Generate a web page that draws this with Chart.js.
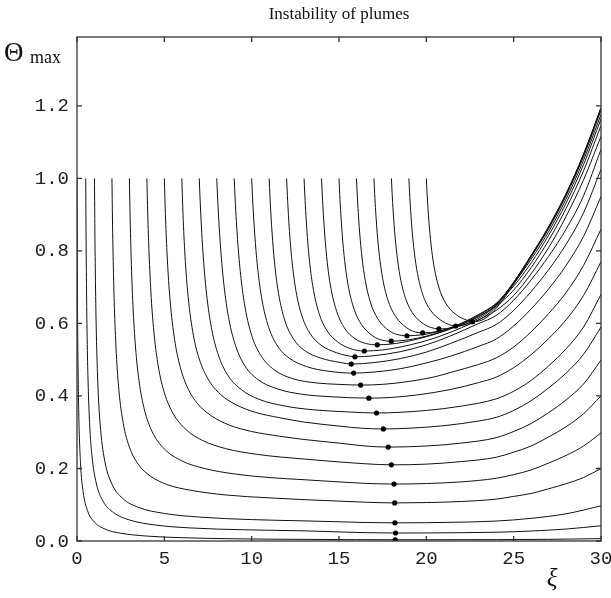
<!DOCTYPE html>
<html>
<head>
<meta charset="utf-8">
<title>Instability of plumes</title>
<script src="https://cdn.jsdelivr.net/npm/chart.js@4.4.1/dist/chart.umd.min.js"></script>
<style>
  html, body { margin: 0; padding: 0; background: #fff; }
  canvas { display: block; }
</style>
</head>
<body>
<canvas id="myChart" width="611" height="598"></canvas>
<script>
const xTicks = [0, 5, 10, 15, 20, 25, 30];
const yTicks = [0, 0.2, 0.4, 0.6, 0.8, 1.0, 1.2];

// each curve: [xi, theta_max] pairs
const curve0 = [[0,1.0],[0.02,0.733],[0.05,0.524],[0.1,0.355],[0.2,0.216],[0.35,0.136],[0.6,0.084],[1.0,0.052],[1.6,0.033],[2.5,0.0215],[4,0.0136],[6,0.0091],[9,0.0061],[13,0.0045],[16,0.0037],[18.2,0.0034],[21,0.0035],[24,0.0038],[27,0.0046],[30,0.0065]];
const curve05 = [[0.5,1.0],[0.52,0.837],[0.55,0.673],[0.6,0.51],[0.7,0.347],[0.85,0.238],[1.1,0.16],[1.5,0.109],[2.1,0.078],[3,0.058],[4.5,0.044],[6.5,0.036],[9.5,0.031],[13,0.028],[15,0.025],[16.5,0.023],[18.24,0.022],[20,0.0222],[22,0.0229],[24,0.0242],[26,0.0275],[28,0.033],[30,0.042]];
const curve1 = [[1,1.0],[1.02,0.875],[1.05,0.739],[1.1,0.59],[1.2,0.426],[1.35,0.308],[1.6,0.218],[2,0.157],[2.6,0.118],[3.5,0.093],[5,0.076],[7,0.066],[10,0.059],[13,0.0555],[15,0.053],[16.5,0.051],[18.2,0.05],[20,0.0505],[22,0.052],[24,0.055],[26,0.0625],[28,0.075],[30,0.097]];
const curve2 = [[2,1.0],[2.03,0.888],[2.08,0.756],[2.15,0.631],[2.25,0.517],[2.4,0.415],[2.65,0.324],[3,0.259],[3.5,0.212],[4.2,0.179],[5.2,0.155],[6.5,0.14],[8.5,0.127],[11,0.119],[13,0.114],[15,0.11],[16.5,0.107],[18.19,0.105],[20,0.106],[22,0.109],[24,0.1155],[25,0.123],[26,0.131],[27,0.144],[28,0.158],[29,0.175],[30,0.2]];
const curve3 = [[3,1.0],[3.04,0.896],[3.1,0.782],[3.2,0.653],[3.35,0.535],[3.55,0.442],[3.85,0.364],[4.3,0.302],[5,0.254],[6,0.221],[7.3,0.2],[9,0.185],[11,0.175],[13,0.169],[15,0.163],[16.5,0.159],[18.15,0.157],[20,0.1585],[22,0.163],[24,0.173],[25,0.183],[26,0.196],[27,0.215],[28,0.236],[29,0.262],[30,0.298]];
const curve4 = [[4,1.0],[4.05,0.902],[4.12,0.8],[4.25,0.671],[4.42,0.568],[4.65,0.483],[5,0.409],[5.5,0.352],[6.2,0.309],[7.2,0.277],[8.5,0.255],[10.3,0.239],[13,0.226],[15,0.218],[16.5,0.213],[18,0.21],[20,0.212],[22,0.219],[24,0.231],[25,0.245],[26,0.262],[27,0.287],[28,0.315],[29,0.351],[30,0.4]];
const curve5 = [[5,1.0],[5.06,0.903],[5.15,0.798],[5.3,0.681],[5.55,0.568],[5.85,0.491],[6.3,0.426],[6.9,0.379],[7.7,0.345],[8.7,0.32],[10,0.302],[11.6,0.289],[13,0.28],[15,0.27],[16.5,0.262],[17.82,0.259],[20,0.262],[22,0.27],[24,0.285],[25,0.302],[26,0.324],[27,0.354],[28,0.389],[29,0.433],[30,0.499]];
const curve6 = [[6,1.0],[6.07,0.9],[6.18,0.789],[6.36,0.675],[6.66,0.568],[7,0.502],[7.5,0.447],[8.2,0.405],[9.1,0.376],[10.2,0.355],[11.6,0.34],[13,0.328],[15,0.317],[16.3,0.311],[17.54,0.309],[19,0.311],[21,0.318],[23,0.331],[24,0.341],[25,0.36],[26,0.387],[27,0.422],[28,0.463],[29,0.515],[30,0.59]];
const curve7 = [[7,1.0],[7.038,0.953],[7.091,0.897],[7.189,0.812],[7.318,0.73],[7.492,0.651],[7.757,0.573],[8.136,0.507],[8.665,0.455],[9.422,0.417],[10.407,0.391],[11.92,0.372],[13.5,0.362],[15.5,0.356],[17.15,0.353],[18.5,0.355],[20,0.36],[22,0.372],[24,0.392],[25,0.413],[26,0.443],[27,0.483],[28,0.53],[29,0.59],[30,0.68]];
const curve8 = [[8,1.0],[8.054,0.943],[8.129,0.875],[8.269,0.779],[8.452,0.69],[8.699,0.611],[9.076,0.539],[9.614,0.483],[10.367,0.445],[11.443,0.42],[12.842,0.405],[14.5,0.398],[16.71,0.394],[18,0.396],[19.5,0.403],[21.4,0.418],[23,0.437],[24,0.452],[25,0.478],[26,0.514],[27,0.558],[28,0.61],[29,0.677],[30,0.77]];
const curve9 = [[9,1.0],[9.052,0.946],[9.125,0.881],[9.26,0.789],[9.438,0.705],[9.677,0.63],[10.042,0.561],[10.563,0.509],[11.292,0.472],[12.334,0.448],[13.689,0.436],[15,0.432],[16.24,0.43],[17.5,0.432],[19,0.44],[20.5,0.453],[21.4,0.465],[23,0.487],[24,0.505],[25,0.535],[26,0.577],[27,0.627],[28,0.685],[29,0.76],[30,0.86]];
const curve10 = [[10,1.0],[10.049,0.949],[10.118,0.888],[10.246,0.802],[10.413,0.723],[10.64,0.652],[10.984,0.588],[11.476,0.538],[12.165,0.504],[13.149,0.481],[14.428,0.468],[15.84,0.463],[17,0.466],[18.5,0.475],[20,0.491],[21.4,0.51],[23,0.537],[24,0.557],[25,0.593],[26,0.64],[27,0.695],[28,0.76],[29,0.84],[30,0.95]];
const curve11 = [[11,1.0],[11.046,0.951],[11.11,0.894],[11.229,0.811],[11.384,0.735],[11.594,0.668],[11.914,0.606],[12.371,0.559],[13.011,0.526],[13.925,0.505],[15.113,0.492],[15.7,0.488],[17,0.492],[18.5,0.503],[20,0.521],[21.4,0.545],[23,0.576],[24,0.597],[25,0.636],[26,0.688],[27,0.748],[28,0.818],[29,0.905],[30,1.025]];
const curve12 = [[12,1.0],[12.045,0.953],[12.108,0.897],[12.224,0.816],[12.377,0.743],[12.583,0.677],[12.897,0.618],[13.346,0.572],[13.973,0.54],[14.87,0.519],[15.4,0.512],[15.91,0.508],[17,0.511],[18.5,0.522],[20,0.541],[21.4,0.566],[23,0.6],[24,0.622],[25,0.664],[26,0.72],[27,0.785],[28,0.86],[29,0.952],[30,1.08]];
const curve13 = [[13,1.0],[13.044,0.954],[13.105,0.899],[13.219,0.82],[13.368,0.748],[13.569,0.684],[13.876,0.625],[14.314,0.58],[14.927,0.549],[15.628,0.531],[16.45,0.524],[17.5,0.527],[19,0.54],[20.5,0.56],[22,0.588],[23,0.61],[24,0.636],[25,0.677],[26,0.737],[27,0.809],[28,0.895],[29,0.996],[30,1.116]];
const curve14 = [[14,1.0],[14.044,0.954],[14.104,0.901],[14.218,0.824],[14.365,0.753],[14.566,0.69],[14.87,0.633],[15.305,0.588],[15.914,0.558],[16.52,0.545],[17.19,0.541],[18.3,0.545],[19.5,0.557],[21,0.578],[22,0.597],[23,0.62],[24,0.648],[25,0.692],[26,0.754],[27,0.829],[28,0.917],[29,1.021],[30,1.146]];
const curve15 = [[15,1.0],[15.043,0.955],[15.103,0.903],[15.215,0.827],[15.361,0.758],[15.559,0.696],[15.86,0.64],[16.29,0.597],[16.892,0.567],[17.322,0.556],[17.99,0.551],[19,0.555],[20,0.565],[21,0.58],[22,0.6],[23,0.625],[24,0.655],[25,0.703],[26,0.767],[27,0.843],[28,0.932],[29,1.038],[30,1.164]];
const curve16 = [[16,1.0],[16.043,0.957],[16.102,0.906],[16.213,0.833],[16.357,0.766],[16.553,0.706],[16.85,0.651],[17.275,0.609],[17.87,0.58],[18.295,0.57],[18.89,0.566],[19.8,0.569],[20.7,0.578],[21.6,0.592],[22.5,0.611],[23.3,0.631],[24,0.655],[25,0.71],[26,0.777],[27,0.853],[28,0.943],[29,1.05],[30,1.176]];
const curve17 = [[17,1.0],[17.042,0.958],[17.101,0.908],[17.21,0.836],[17.353,0.771],[17.546,0.712],[17.84,0.659],[18.26,0.618],[18.848,0.589],[19.268,0.578],[19.79,0.574],[20.7,0.578],[21.6,0.59],[22.5,0.607],[23.3,0.627],[24,0.653],[25,0.713],[26,0.784],[27,0.861],[28,0.952],[29,1.06],[30,1.188]];
const curve18 = [[18,1.0],[18.042,0.959],[18.1,0.91],[18.209,0.84],[18.351,0.776],[18.543,0.718],[18.835,0.666],[19.253,0.626],[19.837,0.599],[20.25,0.589],[20.72,0.585],[21.6,0.589],[22.5,0.603],[23.3,0.623],[24,0.651],[25,0.714],[26,0.788],[27,0.866],[28,0.957],[29,1.066],[30,1.194]];
const curve19 = [[19,1.0],[19.042,0.96],[19.1,0.912],[19.208,0.844],[19.349,0.782],[19.54,0.726],[19.83,0.675],[20.245,0.636],[20.826,0.609],[21.24,0.598],[21.68,0.593],[22.5,0.6],[23.3,0.618],[24,0.647],[25,0.712],[26,0.787],[27,0.867],[28,0.958],[29,1.067],[30,1.195]];
const curve20 = [[20,1.0],[20.041,0.961],[20.098,0.915],[20.205,0.849],[20.344,0.788],[20.533,0.734],[20.82,0.685],[21.23,0.647],[21.804,0.621],[22.214,0.611],[22.65,0.605],[23.3,0.612],[24,0.642],[25,0.708],[26,0.784],[27,0.865],[28,0.956],[29,1.065],[30,1.193]];

const curves = [curve0, curve05, curve1, curve2, curve3, curve4, curve5, curve6, curve7,
  curve8, curve9, curve10, curve11, curve12, curve13, curve14, curve15, curve16,
  curve17, curve18, curve19, curve20];

// minima (the dots)
const minXi = [18.22, 18.24, 18.2, 18.19, 18.15, 18.0, 17.82, 17.54, 17.15, 16.71, 16.24,
  15.84, 15.7, 15.91, 16.45, 17.19, 17.99, 18.89, 19.79, 20.72, 21.68, 22.65];
const minTheta = [0.0034, 0.022, 0.05, 0.105, 0.157, 0.21, 0.259, 0.309, 0.353, 0.394, 0.43,
  0.463, 0.488, 0.508, 0.524, 0.541, 0.551, 0.566, 0.574, 0.585, 0.593, 0.605];

const datasets = [{
  data: minXi.map((x, i) => ({ x: x, y: minTheta[i] })),
  showLine: false,
  pointRadius: 2.6,
  pointBackgroundColor: '#000',
  pointBorderWidth: 0
}];
curves.forEach(c => {
  datasets.push({
    data: c.map(p => ({ x: p[0], y: p[1] })),
    showLine: true,
    pointRadius: 0,
    borderColor: '#111',
    borderWidth: 1,
    cubicInterpolationMode: 'monotone',
    fill: false
  });
});

const frame = {
  id: 'frame',
  afterDraw(chart) {
    const ctx = chart.ctx;
    const a = chart.chartArea;
    const xs = chart.scales.x, ys = chart.scales.y;
    ctx.save();
    ctx.strokeStyle = '#333';
    ctx.lineWidth = 1.3;
    ctx.strokeRect(a.left, a.top, a.right - a.left, a.bottom - a.top);
    ctx.beginPath();
    xTicks.forEach(v => {
      const px = xs.getPixelForValue(v);
      ctx.moveTo(px, a.bottom); ctx.lineTo(px, a.bottom - 5);
      ctx.moveTo(px, a.top); ctx.lineTo(px, a.top + 5);
    });
    yTicks.forEach(v => {
      const py = ys.getPixelForValue(v);
      ctx.moveTo(a.left, py); ctx.lineTo(a.left + 5, py);
      ctx.moveTo(a.right, py); ctx.lineTo(a.right - 5, py);
    });
    ctx.stroke();

    ctx.fillStyle = '#222';
    ctx.font = '19px "Liberation Mono"';
    ctx.textAlign = 'right';
    ctx.textBaseline = 'alphabetic';
    yTicks.forEach(v => {
      ctx.fillText(v.toFixed(1), 69, ys.getPixelForValue(v) + 5.5);
    });
    ctx.textAlign = 'center';
    xTicks.forEach(v => {
      ctx.fillText(String(v), xs.getPixelForValue(v), 563.5);
    });

    ctx.fillStyle = '#111';
    ctx.font = '17px "Liberation Serif"';
    ctx.fillText('Instability of plumes', (a.left + a.right) / 2, 19);

    ctx.textAlign = 'left';
    ctx.font = '27px "Liberation Serif"';
    ctx.fillText('\u0398', 4, 61);
    ctx.font = '18px "Liberation Serif"';
    ctx.fillText('max', 30, 63);

    ctx.textAlign = 'center';
    ctx.font = 'italic 25px "Liberation Serif"';
    ctx.fillText('\u03BE', 552, 586);
    ctx.restore();
  }
};

new Chart(document.getElementById('myChart'), {
  type: 'scatter',
  data: { datasets: datasets },
  options: {
    responsive: false,
    animation: false,
    devicePixelRatio: 1,
    layout: { padding: { top: 37, right: 10, left: 0, bottom: 0 } },
    plugins: { legend: { display: false }, tooltip: { enabled: false }, title: { display: false } },
    scales: {
      x: {
        type: 'linear', min: 0, max: 30,
        grid: { display: false }, border: { display: false },
        ticks: { display: false },
        afterFit: s => { s.height = 57; }
      },
      y: {
        type: 'linear', min: 0, max: 1.39,
        grid: { display: false }, border: { display: false },
        ticks: { display: false },
        afterFit: s => { s.width = 77; }
      }
    }
  },
  plugins: [frame]
});
</script>
</body>
</html>
